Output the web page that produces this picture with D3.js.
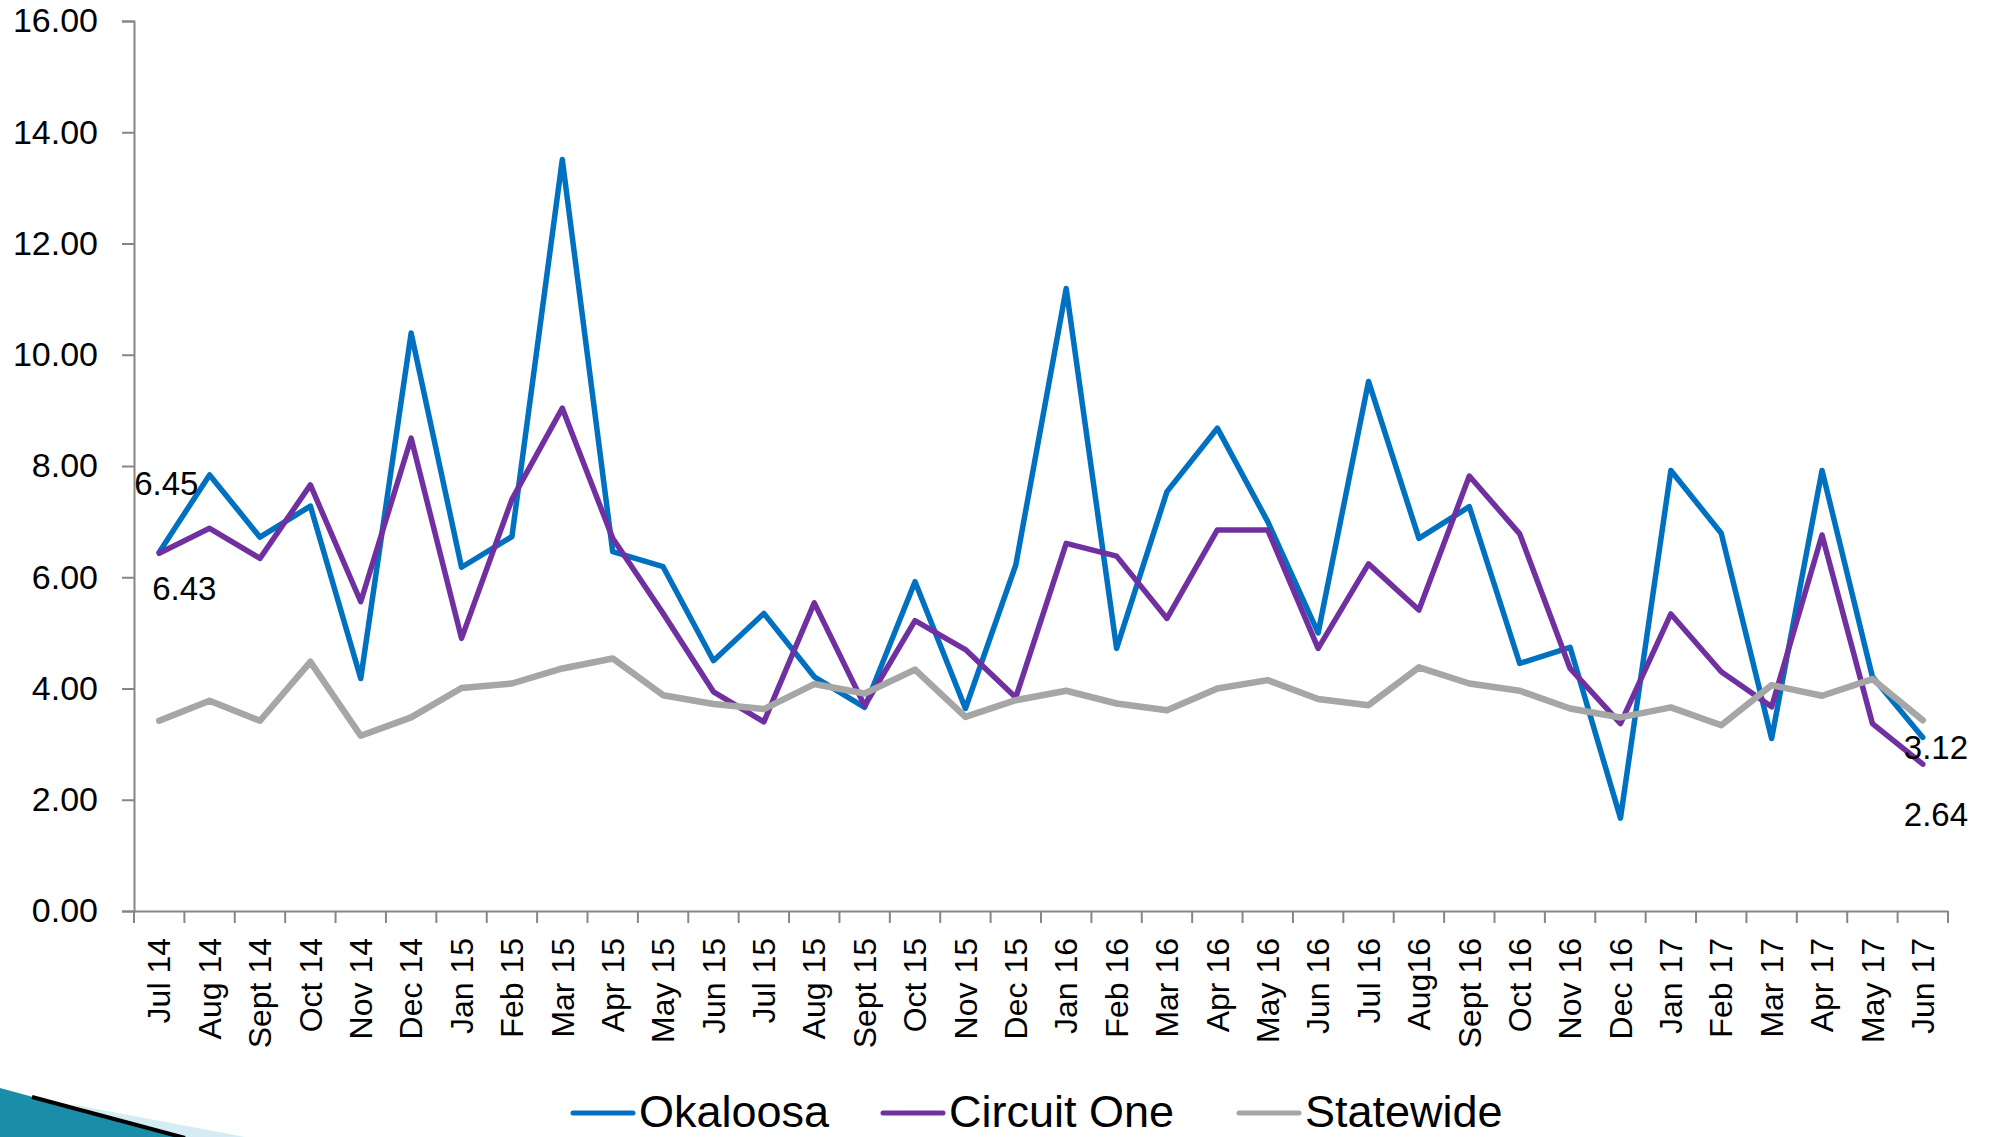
<!DOCTYPE html>
<html>
<head>
<meta charset="utf-8">
<script src="https://cdn.jsdelivr.net/npm/d3@7"></script>
<style>
  html, body { margin: 0; padding: 0; background: #fff; }
  svg { display: block; font-family: "Liberation Sans", Arial, sans-serif; }
  .axis path, .axis line { stroke: #868686; stroke-width: 2; }
  .axis text { fill: #000; }
</style>
</head>
<body>
<svg id="chart"></svg>
<script>
// ---------- data ----------
const months = ['Jul 14','Aug 14','Sept 14','Oct 14','Nov 14','Dec 14','Jan 15','Feb 15','Mar 15','Apr 15',
  'May 15','Jun 15','Jul 15','Aug 15','Sept 15','Oct 15','Nov 15','Dec 15','Jan 16','Feb 16','Mar 16',
  'Apr 16','May 16','Jun 16','Jul 16','Aug16','Sept 16','Oct 16','Nov 16','Dec 16','Jan 17','Feb 17',
  'Mar 17','Apr 17','May 17','Jun 17'];

const okaloosa = [6.45, 7.84, 6.72, 7.28, 4.18, 10.39, 6.18, 6.73, 13.51, 6.46,
  6.19, 4.50, 5.35, 4.21, 3.66, 5.92, 3.64, 6.22, 11.19, 4.72, 7.54,
  8.68, 7.00, 5.00, 9.52, 6.70, 7.27, 4.45, 4.74, 1.67, 7.92, 6.79,
  3.10, 7.92, 4.21, 3.12];

const circuitOne = [6.43, 6.88, 6.34, 7.66, 5.56, 8.50, 4.90, 7.40, 9.04, 6.70,
  5.35, 3.94, 3.40, 5.54, 3.69, 5.22, 4.70, 3.84, 6.61, 6.38, 5.26,
  6.85, 6.85, 4.72, 6.24, 5.41, 7.82, 6.78, 4.36, 3.37, 5.34, 4.30,
  3.67, 6.76, 3.37, 2.64];

const statewide = [3.42, 3.78, 3.42, 4.48, 3.15, 3.48, 4.01, 4.09, 4.36, 4.54,
  3.88, 3.72, 3.63, 4.08, 3.91, 4.34, 3.49, 3.79, 3.96, 3.73, 3.61,
  4.00, 4.15, 3.81, 3.70, 4.38, 4.09, 3.96, 3.64, 3.48, 3.66, 3.34,
  4.06, 3.87, 4.17, 3.43];

const seriesNames = ['Okaloosa', 'Circuit One', 'Statewide'];
const seriesColors = ['#0070C0', '#7030A0', '#A6A6A6'];
const yTicks = [0, 2, 4, 6, 8, 10, 12, 14, 16];

// ---------- setup ----------
const width = 1992, height = 1137;
const svg = d3.select('#chart').attr('width', width).attr('height', height);

const x = d3.scaleBand().domain(months).range([134, 1948]).padding(0);
const y = d3.scaleLinear().domain([0, 16]).range([911, 21]);
const cx = d => x(d) + x.bandwidth() / 2;

// corner decoration (template swoosh)
const deco = svg.append('g');
deco.append('polygon')
  .attr('points', '70,1104 245,1137 170,1137')
  .attr('fill', '#d4ecf4');
deco.append('polygon')
  .attr('points', '0,1088 180,1137 0,1137')
  .attr('fill', '#1a8ea8');
deco.append('line')
  .attr('x1', 32).attr('y1', 1097).attr('x2', 185).attr('y2', 1138)
  .attr('stroke', '#000').attr('stroke-width', 4);

// ---------- axes ----------
const yAxis = svg.append('g')
  .attr('class', 'axis')
  .attr('transform', 'translate(134,0)')
  .call(d3.axisLeft(y).tickValues(yTicks).tickFormat(d3.format('.2f')).tickSize(12).tickPadding(24));
yAxis.selectAll('text').attr('font-size', 34).attr('font-family', 'Liberation Sans, Arial, sans-serif');

const xAxis = svg.append('g')
  .attr('class', 'axis')
  .attr('transform', `translate(0,${y(0)})`)
  .call(d3.axisBottom(x).tickSize(0).tickSizeOuter(0));
xAxis.selectAll('text')
  .attr('font-size', 32)
  .attr('font-family', 'Liberation Sans, Arial, sans-serif')
  .attr('text-anchor', 'end')
  .attr('transform', 'rotate(-90)')
  .attr('x', -27)
  .attr('y', 0)
  .attr('dy', '0.35em');

// boundary ticks between categories
const bounds = months.map(d => x(d)).concat([x.range()[1]]);
xAxis.selectAll('.bound')
  .data(bounds)
  .enter().append('line')
  .attr('class', 'bound')
  .attr('x1', d => d).attr('x2', d => d)
  .attr('y1', 0).attr('y2', 12)
  .attr('stroke', '#868686').attr('stroke-width', 2);

// ---------- lines ----------
const allSeries = [okaloosa, circuitOne, statewide];
const line = d3.line()
  .x((d, i) => cx(months[i]))
  .y(d => y(d));

svg.selectAll('.series')
  .data(allSeries)
  .enter().append('path')
  .attr('class', 'series')
  .attr('d', line)
  .attr('fill', 'none')
  .attr('stroke', (d, i) => seriesColors[i])
  .attr('stroke-width', (d, i) => i == 2 ? 6.5 : 5.5)
  .attr('stroke-linejoin', 'round')
  .attr('stroke-linecap', 'round');

// ---------- data labels (first and last points) ----------
const last = months.length - 1;
const labels = [
  {v: okaloosa[0],      i: 0,    dx: -25, dy: -57},
  {v: circuitOne[0],    i: 0,    dx: -7,  dy: 47},
  {v: okaloosa[last],   i: last, dx: -19, dy: 22},
  {v: circuitOne[last], i: last, dx: -19, dy: 62}
];
svg.selectAll('.dlabel')
  .data(labels)
  .enter().append('text')
  .attr('class', 'dlabel')
  .attr('x', d => cx(months[d.i]) + d.dx)
  .attr('y', d => y(d.v) + d.dy)
  .attr('font-size', 33)
  .attr('fill', '#000')
  .text(d => d.v.toFixed(2));

// ---------- legend ----------
const legendX = [573, 883, 1239];
const legend = svg.selectAll('.legend')
  .data(seriesNames)
  .enter().append('g')
  .attr('class', 'legend')
  .attr('transform', (d, i) => `translate(${legendX[i]},1113)`);
legend.append('line')
  .attr('x1', 0).attr('x2', 60)
  .attr('stroke', (d, i) => seriesColors[i])
  .attr('stroke-width', 5)
  .attr('stroke-linecap', 'round');
legend.append('text')
  .attr('x', 66).attr('y', 14)
  .attr('font-size', 45)
  .attr('fill', '#000')
  .text(d => d);
</script>
</body>
</html>
